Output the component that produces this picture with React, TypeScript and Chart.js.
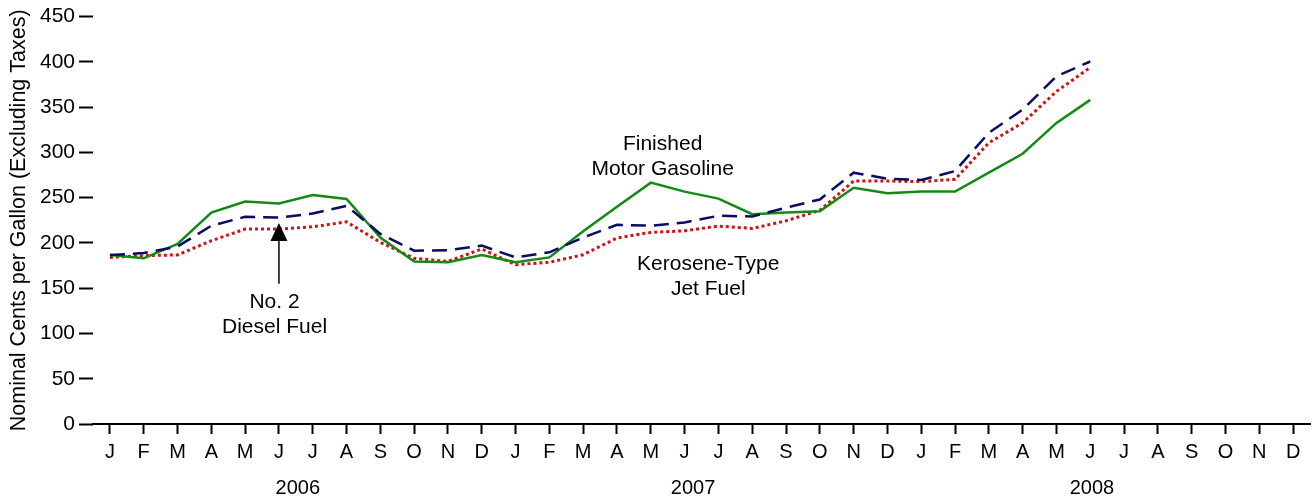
import React, { useEffect, useRef } from 'react';
import { Chart, registerables } from 'chart.js';

Chart.register(...registerables);

const monthLetters = ['J', 'F', 'M', 'A', 'M', 'J', 'J', 'A', 'S', 'O', 'N', 'D'];
const years = ['2006', '2007', '2008'];
// category index under which each year label is centred
const yearLabelIndex = [5.56, 17.25, 29.05];
const categories = [...monthLetters, ...monthLetters, ...monthLetters];

const gasoline = [
  186.7, 183, 198.8, 233.5, 245.7, 243.5, 253, 248.6, 206, 179.6, 178.6, 186.7,
  178.6, 184, 213, 240, 266.6, 256.7, 249, 231.8, 233.6, 235, 261, 254.9,
  256.7, 256.7, 277.6, 298.5, 332.6, 358,
  null, null, null, null, null, null,
];
const diesel = [
  186.7, 188.8, 196, 219, 228.8, 228, 232.5, 241, 210, 191.4, 192, 197,
  184, 189.6, 206, 220, 219, 222.6, 230, 229.2, 239, 248, 277.6, 271,
  269.5, 279.4, 321.6, 347.3, 384, 400.4,
  null, null, null, null, null, null,
];
const jetFuel = [
  184, 186, 186.7, 202.4, 215.3, 215.3, 217.8, 223.3, 200.6, 183, 179.6, 193.3,
  176, 178.6, 187, 205.4, 211.6, 213.4, 218.6, 216, 224.4, 236, 268.4, 268.4,
  267.7, 270.3, 310.6, 332.6, 367.4, 393.8,
  null, null, null, null, null, null,
];

const yTickValues = [0, 50, 100, 150, 200, 250, 300, 350, 400, 450];
const yTitle = 'Nominal Cents per Gallon (Excluding Taxes)';

// annotation anchors in data coordinates (category index, value)
const annotations = [
  { lines: ['Finished', 'Motor Gasoline'], index: 16.35, value: 309 },
  { lines: ['Kerosene-Type', 'Jet Fuel'], index: 17.7, value: 177 },
  { lines: ['No. 2', 'Diesel Fuel'], index: 4.87, value: 134 },
];
const arrow = { index: 5, fromValue: 155, toValue: 222 };

const FONT = "'Liberation Sans', Arial, Helvetica, sans-serif";

const overlayPlugin = {
  id: 'overlay',
  afterDraw(chart: any) {
    const ctx = chart.ctx;
    const x = chart.scales.x;
    const y = chart.scales.y;
    ctx.save();
    ctx.fillStyle = '#000';
    ctx.textAlign = 'center';
    ctx.textBaseline = 'middle';
    // year labels
    ctx.font = `20px ${FONT}`;
    years.forEach((yr, i) => {
      ctx.fillText(yr, x.getPixelForValue(yearLabelIndex[i]), 488);
    });
    // annotations
    ctx.font = `21px ${FONT}`;
    annotations.forEach((a) => {
      const cx = x.getPixelForValue(a.index);
      const cy = y.getPixelForValue(a.value);
      a.lines.forEach((line, k) => ctx.fillText(line, cx, cy + k * 25));
    });
    // arrow
    const ax = x.getPixelForValue(arrow.index);
    const y0 = y.getPixelForValue(arrow.fromValue);
    const y1 = y.getPixelForValue(arrow.toValue);
    ctx.strokeStyle = '#000';
    ctx.lineWidth = 1.5;
    ctx.beginPath();
    ctx.moveTo(ax, y0);
    ctx.lineTo(ax, y1 + 15);
    ctx.stroke();
    ctx.beginPath();
    ctx.moveTo(ax, y1);
    ctx.lineTo(ax - 8.5, y1 + 18);
    ctx.lineTo(ax + 8.5, y1 + 18);
    ctx.closePath();
    ctx.fill();
    ctx.restore();
  },
};

export default function App() {
  const ref = useRef<HTMLCanvasElement | null>(null);
  useEffect(() => {
    if (!ref.current) return;
    const chart = new Chart(ref.current, {
      type: 'line',
      data: {
        labels: categories,
        datasets: [
          {
            label: 'No. 2 Diesel Fuel',
            data: diesel,
            borderColor: '#0b0b66',
            borderWidth: 2.5,
            borderDash: [15, 8],
            pointRadius: 0,
            fill: false,
            tension: 0,
          },
          {
            label: 'Finished Motor Gasoline',
            data: gasoline,
            borderColor: '#138a13',
            borderWidth: 2.5,
            pointRadius: 0,
            fill: false,
            tension: 0,
          },
          {
            label: 'Kerosene-Type Jet Fuel',
            data: jetFuel,
            borderColor: '#cc1414',
            borderWidth: 3,
            borderDash: [3, 3],
            pointRadius: 0,
            fill: false,
            tension: 0,
          },
        ],
      },
      options: {
        responsive: false,
        animation: false,
        events: [],
        layout: { padding: { top: 15, right: 3, left: 0, bottom: 0 } },
        plugins: {
          legend: { display: false },
          tooltip: { enabled: false },
          title: { display: false },
        },
        scales: {
          x: {
            type: 'category',
            offset: true,
            grid: {
              display: true,
              drawOnChartArea: false,
              drawTicks: true,
              tickLength: 10,
              tickWidth: 2,
              tickColor: '#000',
              offset: false,
            },
            border: { display: true, color: '#000', width: 2 },
            ticks: {
              color: '#000',
              font: { family: FONT, size: 20 },
              padding: 6,
              autoSkip: false,
              maxRotation: 0,
            },
            afterFit: (s: any) => {
              s.height = 76;
            },
          },
          y: {
            min: 0,
            max: 450,
            afterBuildTicks: (s: any) => {
              s.ticks = yTickValues.map((v) => ({ value: v }));
            },
            grid: {
              drawOnChartArea: false,
              drawTicks: true,
              tickLength: 14,
              tickWidth: 2,
              tickColor: '#000',
            },
            border: { display: false },
            ticks: {
              color: '#000',
              font: { family: FONT, size: 21 },
              padding: 4,
            },
            title: {
              display: true,
              text: yTitle,
              color: '#000',
              font: { family: FONT, size: 21.5 },
              padding: { top: 6, bottom: 0 },
            },
            afterFit: (s: any) => {
              s.width = 93;
            },
          },
        },
      },
      plugins: [overlayPlugin],
    });
    return () => chart.destroy();
  }, []);
  return (
    <div style={{ position: 'absolute', left: 0, top: 0, width: 1313, height: 500, background: '#fff' }}>
      <canvas ref={ref} width={1313} height={500} style={{ display: 'block' }} />
    </div>
  );
}
